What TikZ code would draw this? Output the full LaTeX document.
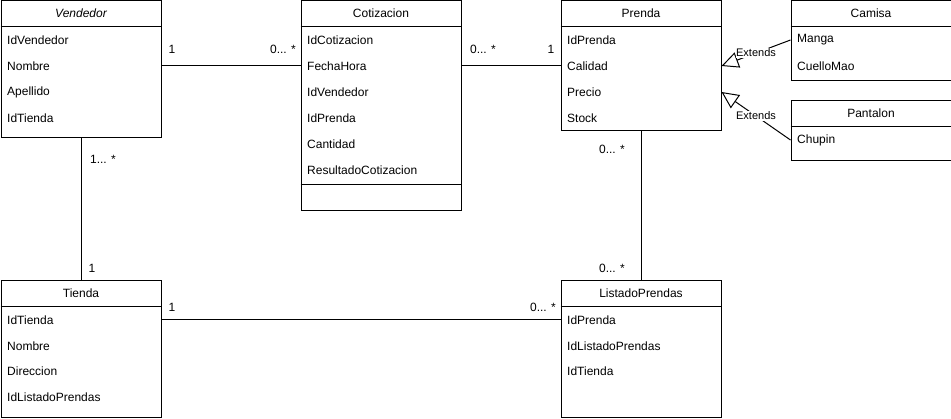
\documentclass[tikz,border=0pt]{standalone}
\usepackage{fontspec}
\setmainfont{Liberation Sans}
\usetikzlibrary{arrows.meta}

\tikzset{
  classbox/.style={draw,line width=1pt,anchor=north west,inner sep=0pt,minimum width=160pt},
  title/.style={inner sep=0pt,font=\fontsize{12}{14}\selectfont},
  attr/.style={anchor=west,inner sep=0pt,font=\fontsize{12}{14}\selectfont},
  mult/.style={inner sep=0pt,font=\fontsize{12}{14}\selectfont},
  assoc/.style={line width=1pt},
  extends/.style={line width=1pt,-{Triangle[open,length=17pt,width=16pt]}},
  extlabel/.style={fill=white,inner sep=0.5pt,font=\fontsize{11}{13}\selectfont},
}

\begin{document}
\begin{tikzpicture}[x=1pt,y=-1pt]
        \useasboundingbox (0,0) rectangle (951,419) ;
        % Vendedor
        \node[classbox,minimum height=137pt] (vend) at (0.5,0.5) {} ;
        \draw[line width=1pt] ([yshift=-26pt]vend.north west) -- ([yshift=-26pt]vend.north east) ;
        \node[title,font=\fontsize{12}{14}\selectfont\itshape] at ([yshift=-13pt]vend.north) {Vendedor} ;
        \node[attr] (vend-1) at (7,40) {IdVendedor} ;
        \node[attr] (vend-2) at (7,66) {Nombre} ;
        \node[attr] (vend-3) at (7,92) {Apellido} ;
        \node[attr] (vend-4) at (7,118) {IdTienda} ;
        % Cotizacion
        \node[classbox,minimum height=210pt] (cot) at (300.5,0.5) {} ;
        \draw[line width=1pt] ([yshift=-26pt]cot.north west) -- ([yshift=-26pt]cot.north east) ;
        \draw[line width=1pt] ([yshift=-184.5pt]cot.north west) -- ([yshift=-184.5pt]cot.north east) ;
        \node[title] at ([yshift=-13pt]cot.north) {Cotizacion} ;
        \node[attr] (cot-1) at (307,40) {IdCotizacion} ;
        \node[attr] (cot-2) at (307,66) {FechaHora} ;
        \node[attr] (cot-3) at (307,92) {IdVendedor} ;
        \node[attr] (cot-4) at (307,118) {IdPrenda} ;
        \node[attr] (cot-5) at (307,144) {Cantidad} ;
        \node[attr] (cot-6) at (307,170) {ResultadoCotizacion} ;
        % Prenda
        \node[classbox,minimum height=130pt] (prenda) at (560.5,0.5) {} ;
        \draw[line width=1pt] ([yshift=-26pt]prenda.north west) -- ([yshift=-26pt]prenda.north east) ;
        \node[title] at ([yshift=-13pt]prenda.north) {Prenda} ;
        \node[attr] (prenda-1) at (567,40) {IdPrenda} ;
        \node[attr] (prenda-2) at (567,66) {Calidad} ;
        \node[attr] (prenda-3) at (567,92) {Precio} ;
        \node[attr] (prenda-4) at (567,118) {Stock} ;
        % Camisa
        \node[classbox,minimum height=80pt] (camisa) at (790.5,0.5) {} ;
        \draw[line width=1pt] ([yshift=-26pt]camisa.north west) -- ([yshift=-26pt]camisa.north east) ;
        \node[title] at ([yshift=-13pt]camisa.north) {Camisa} ;
        \node[attr] (camisa-1) at (797,40) {Manga} ;
        \node[attr] (camisa-2) at (797,66) {CuelloMao} ;
        % Pantalon
        \node[classbox,minimum height=60pt] (pant) at (790.5,100.5) {} ;
        \draw[line width=1pt] ([yshift=-26pt]pant.north west) -- ([yshift=-26pt]pant.north east) ;
        \node[title] at ([yshift=-13pt]pant.north) {Pantalon} ;
        \node[attr] (pant-1) at (797,140) {Chupin} ;
        % Tienda
        \node[classbox,minimum height=137pt] (tienda) at (0.5,280.5) {} ;
        \draw[line width=1pt] ([yshift=-26pt]tienda.north west) -- ([yshift=-26pt]tienda.north east) ;
        \node[title] at ([yshift=-13pt]tienda.north) {Tienda} ;
        \node[attr] (tienda-1) at (7,320) {IdTienda} ;
        \node[attr] (tienda-2) at (7,346) {Nombre} ;
        \node[attr] (tienda-3) at (7,371) {Direccion} ;
        \node[attr] (tienda-4) at (7,397) {IdListadoPrendas} ;
        % ListadoPrendas
        \node[classbox,minimum height=137pt] (listado) at (560.5,280.5) {} ;
        \draw[line width=1pt] ([yshift=-26pt]listado.north west) -- ([yshift=-26pt]listado.north east) ;
        \node[title] at ([yshift=-13pt]listado.north) {ListadoPrendas} ;
        \node[attr] (listado-1) at (567,320) {IdPrenda} ;
        \node[attr] (listado-2) at (567,346) {IdListadoPrendas} ;
        \node[attr] (listado-3) at (567,371) {IdTienda} ;
        % associations
        \draw[assoc] (vend.east |- vend-2) -- (cot.west |- vend-2) ;
        \draw[assoc] (cot.east |- cot-2) -- (prenda.west |- prenda-2) ;
        \draw[assoc] (vend.south) -- (tienda.north) ;
        \draw[assoc] (prenda.south) -- (listado.north) ;
        \draw[assoc] (tienda.east |- tienda-1) -- (listado.west |- listado-1) ;
        \node[mult] (m-vend) at (172,49) {1} ;
        \node[mult] (m-cot1) at (283,49) {0... *} ;
        \node[mult] (m-cot2) at (483,49) {0... *} ;
        \node[mult] (m-pren1) at (551,49) {1} ;
        \node[mult] (m-vend2) at (103,159) {1... *} ;
        \node[mult] (m-tien1) at (92,268) {1} ;
        \node[mult] (m-pren2) at (612,149) {0... *} ;
        \node[mult] (m-list1) at (612,268) {0... *} ;
        \node[mult] (m-tien2) at (172,307) {1} ;
        \node[mult] (m-list2) at (543,307) {0... *} ;
        % generalisation
        \draw[extends] (camisa.west |- camisa-1) -- (prenda.east |- prenda-2)
        node[extlabel,pos=0.5] {Extends} ;
        \draw[extends] (pant.west |- pant-1) -- (prenda.east |- prenda-3)
        node[extlabel,pos=0.5] {Extends} ;
      \end{tikzpicture}
\end{document}
